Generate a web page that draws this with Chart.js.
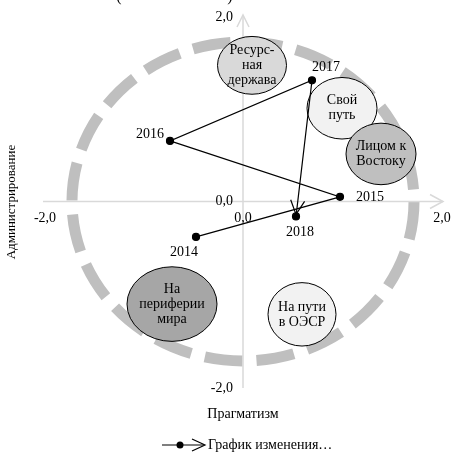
<!DOCTYPE html>
<html>
<head>
<meta charset="utf-8">
<script src="https://cdn.jsdelivr.net/npm/chart.js@4"></script>
<style>
html,body{margin:0;padding:0;background:#fff;}
#wrap{width:451px;height:453px;position:relative;}
</style>
</head>
<body>
<div id="wrap"><canvas id="c"></canvas></div>
<script>
// ---- data ----
const years = ['2014', '2015', '2016', '2017', '2018'];
const pragmatism = [-0.47, 0.97, -0.73, 0.69, 0.53];
const administration = [-0.38, 0.05, 0.65, 1.30, -0.16];

const scenarioNames = [['Ресурс-', 'ная', 'держава'], ['Свой', 'путь'], ['Лицом к', 'Востоку'], ['На', 'периферии', 'мира'], ['На пути', 'в ОЭСР']];
const scenarioX = [0.09, 0.99, 1.38, -0.71, 0.59];
const scenarioY = [1.46, 1.00, 0.51, -1.10, -1.21];
const scenarioRX = [0.345, 0.35, 0.35, 0.45, 0.34];
const scenarioRY = [0.31, 0.33, 0.33, 0.40, 0.34];

const boundaryRadius = 1.71;
const axisTicks = [-2, 0, 2];
const axisTickLabels = ['-2,0', '0,0', '2,0'];
const xTitle = 'Прагматизм';
const yTitle = 'Администрирование';
const seriesName = 'График изменения…';

// ---- styles ----
const FONT = '14px "Liberation Serif", "Times New Roman", serif';
const FONT_SMALL = '13px "Liberation Serif", "Times New Roman", serif';
const scenarioFill = ['#d9d9d9', '#f2f2f2', '#bfbfbf', '#a6a6a6', '#f2f2f2'];
const yearLabelOffset = [[-12, 15], [30, 0], [-20, -7], [14, -13], [4, 16]];

function arrowHead(ctx, tx, ty, dx, dy, len, spread) {
  const L = Math.hypot(dx, dy); const ux = dx / L, uy = dy / L;
  const bx = tx - ux * len, by = ty - uy * len;
  ctx.beginPath();
  ctx.moveTo(bx - uy * spread, by + ux * spread);
  ctx.lineTo(tx, ty);
  ctx.lineTo(bx + uy * spread, by - ux * spread);
  ctx.stroke();
}

const decor = {
  id: 'decor',
  beforeDatasetsDraw(chart) {
    const ctx = chart.ctx, xs = chart.scales.x, ys = chart.scales.y;
    const x0 = xs.getPixelForValue(0), y0 = ys.getPixelForValue(0);
    ctx.save();
    // dashed boundary circle
    const rx = xs.getPixelForValue(boundaryRadius) - x0;
    const ry = y0 - ys.getPixelForValue(boundaryRadius);
    ctx.strokeStyle = '#bfbfbf';
    ctx.lineWidth = 11;
    ctx.setLineDash([38, 14]);
    ctx.beginPath();
    ctx.ellipse(x0, y0, rx, ry, 0, 0, Math.PI * 2);
    ctx.stroke();
    ctx.setLineDash([]);
    // axes
    const xl = xs.getPixelForValue(-2), xr = xs.getPixelForValue(2);
    const yt = ys.getPixelForValue(2), yb = ys.getPixelForValue(-2);
    ctx.strokeStyle = '#d9d9d9';
    ctx.lineWidth = 1.5;
    ctx.beginPath();
    ctx.moveTo(xl, y0); ctx.lineTo(xr, y0);
    ctx.moveTo(x0, yb); ctx.lineTo(x0, yt);
    ctx.stroke();
    arrowHead(ctx, xr, y0, 1, 0, 13, 7);
    arrowHead(ctx, x0, yt, 0, -1, 12, 6);
    // tick labels
    ctx.fillStyle = '#000';
    ctx.font = FONT;
    ctx.textAlign = 'center'; ctx.textBaseline = 'middle';
    axisTicks.forEach((v, i) => {
      ctx.fillText(axisTickLabels[i], xs.getPixelForValue(v) + (v < 0 ? 2 : (v > 0 ? -1 : 0)), y0 + 17);
    });
    ctx.textAlign = 'right';
    axisTicks.forEach((v, i) => {
      ctx.fillText(axisTickLabels[i], x0 - 10, ys.getPixelForValue(v) + (v > 0 ? 2 : 0));
    });
    // scenario bubbles
    scenarioNames.forEach((lines, i) => {
      const cx = xs.getPixelForValue(scenarioX[i]), cy = ys.getPixelForValue(scenarioY[i]);
      const erx = xs.getPixelForValue(scenarioX[i] + scenarioRX[i]) - cx;
      const ery = cy - ys.getPixelForValue(scenarioY[i] + scenarioRY[i]);
      ctx.beginPath();
      ctx.ellipse(cx, cy, erx, ery, 0, 0, Math.PI * 2);
      ctx.fillStyle = scenarioFill[i];
      ctx.fill();
      ctx.strokeStyle = '#000'; ctx.lineWidth = 1;
      ctx.stroke();
      ctx.fillStyle = '#000';
      ctx.textAlign = 'center'; ctx.textBaseline = 'middle';
      const lh = 15, start = cy - (lines.length - 1) * lh / 2;
      lines.forEach((t, k) => ctx.fillText(t, cx, start + k * lh));
    });
    // axis titles
    ctx.fillText(xTitle, x0, 414);
    ctx.save();
    ctx.font = FONT_SMALL;
    ctx.translate(12, 202);
    ctx.rotate(-Math.PI / 2);
    ctx.fillText(yTitle, 0, 0);
    ctx.restore();
    // cut-off title parentheses
    ctx.font = '16px "Liberation Serif", serif';
    ctx.textBaseline = 'alphabetic';
    ctx.fillText('(', 119, 1);
    ctx.fillText(')', 230, 1);
    ctx.restore();
  },
  afterDatasetsDraw(chart) {
    const ctx = chart.ctx, xs = chart.scales.x, ys = chart.scales.y;
    ctx.save();
    const n = pragmatism.length;
    const px = pragmatism.map(v => xs.getPixelForValue(v));
    const py = administration.map(v => ys.getPixelForValue(v));
    // arrow at end of trajectory
    ctx.strokeStyle = '#000'; ctx.lineWidth = 1.2;
    arrowHead(ctx, px[n - 1], py[n - 1] - 2, px[n - 1] - px[n - 2], py[n - 1] - py[n - 2], 14, 7);
    // year labels
    ctx.fillStyle = '#000'; ctx.font = FONT;
    ctx.textAlign = 'center'; ctx.textBaseline = 'middle';
    years.forEach((y, i) => ctx.fillText(y, px[i] + yearLabelOffset[i][0], py[i] + yearLabelOffset[i][1]));
    // legend
    const ly = 445;
    ctx.beginPath(); ctx.moveTo(162, ly); ctx.lineTo(204, ly); ctx.stroke();
    ctx.beginPath(); ctx.arc(180, ly, 3.5, 0, Math.PI * 2); ctx.fill();
    arrowHead(ctx, 205, ly, 1, 0, 13, 6);
    ctx.textAlign = 'left';
    ctx.fillText(seriesName, 208, ly);
    ctx.restore();
  }
};

new Chart(document.getElementById('c'), {
  type: 'scatter',
  data: {
    labels: years,
    datasets: [{
      label: seriesName,
      data: pragmatism.map((x, i) => ({ x: x, y: administration[i] })),
      showLine: true,
      borderColor: '#000',
      borderWidth: 1.2,
      pointRadius: 3.5,
      pointBackgroundColor: '#000',
      pointBorderColor: '#000',
      tension: 0,
      clip: false
    }]
  },
  options: {
    responsive: true,
    maintainAspectRatio: false,
    animation: false,
    layout: { padding: { left: 43, right: 8, top: 15, bottom: 65 } },
    plugins: { legend: { display: false }, tooltip: { enabled: false }, title: { display: false } },
    scales: {
      x: { type: 'linear', min: -2, max: 2, display: false },
      y: { type: 'linear', min: -2, max: 2, display: false }
    }
  },
  plugins: [decor]
});
</script>
</body>
</html>
